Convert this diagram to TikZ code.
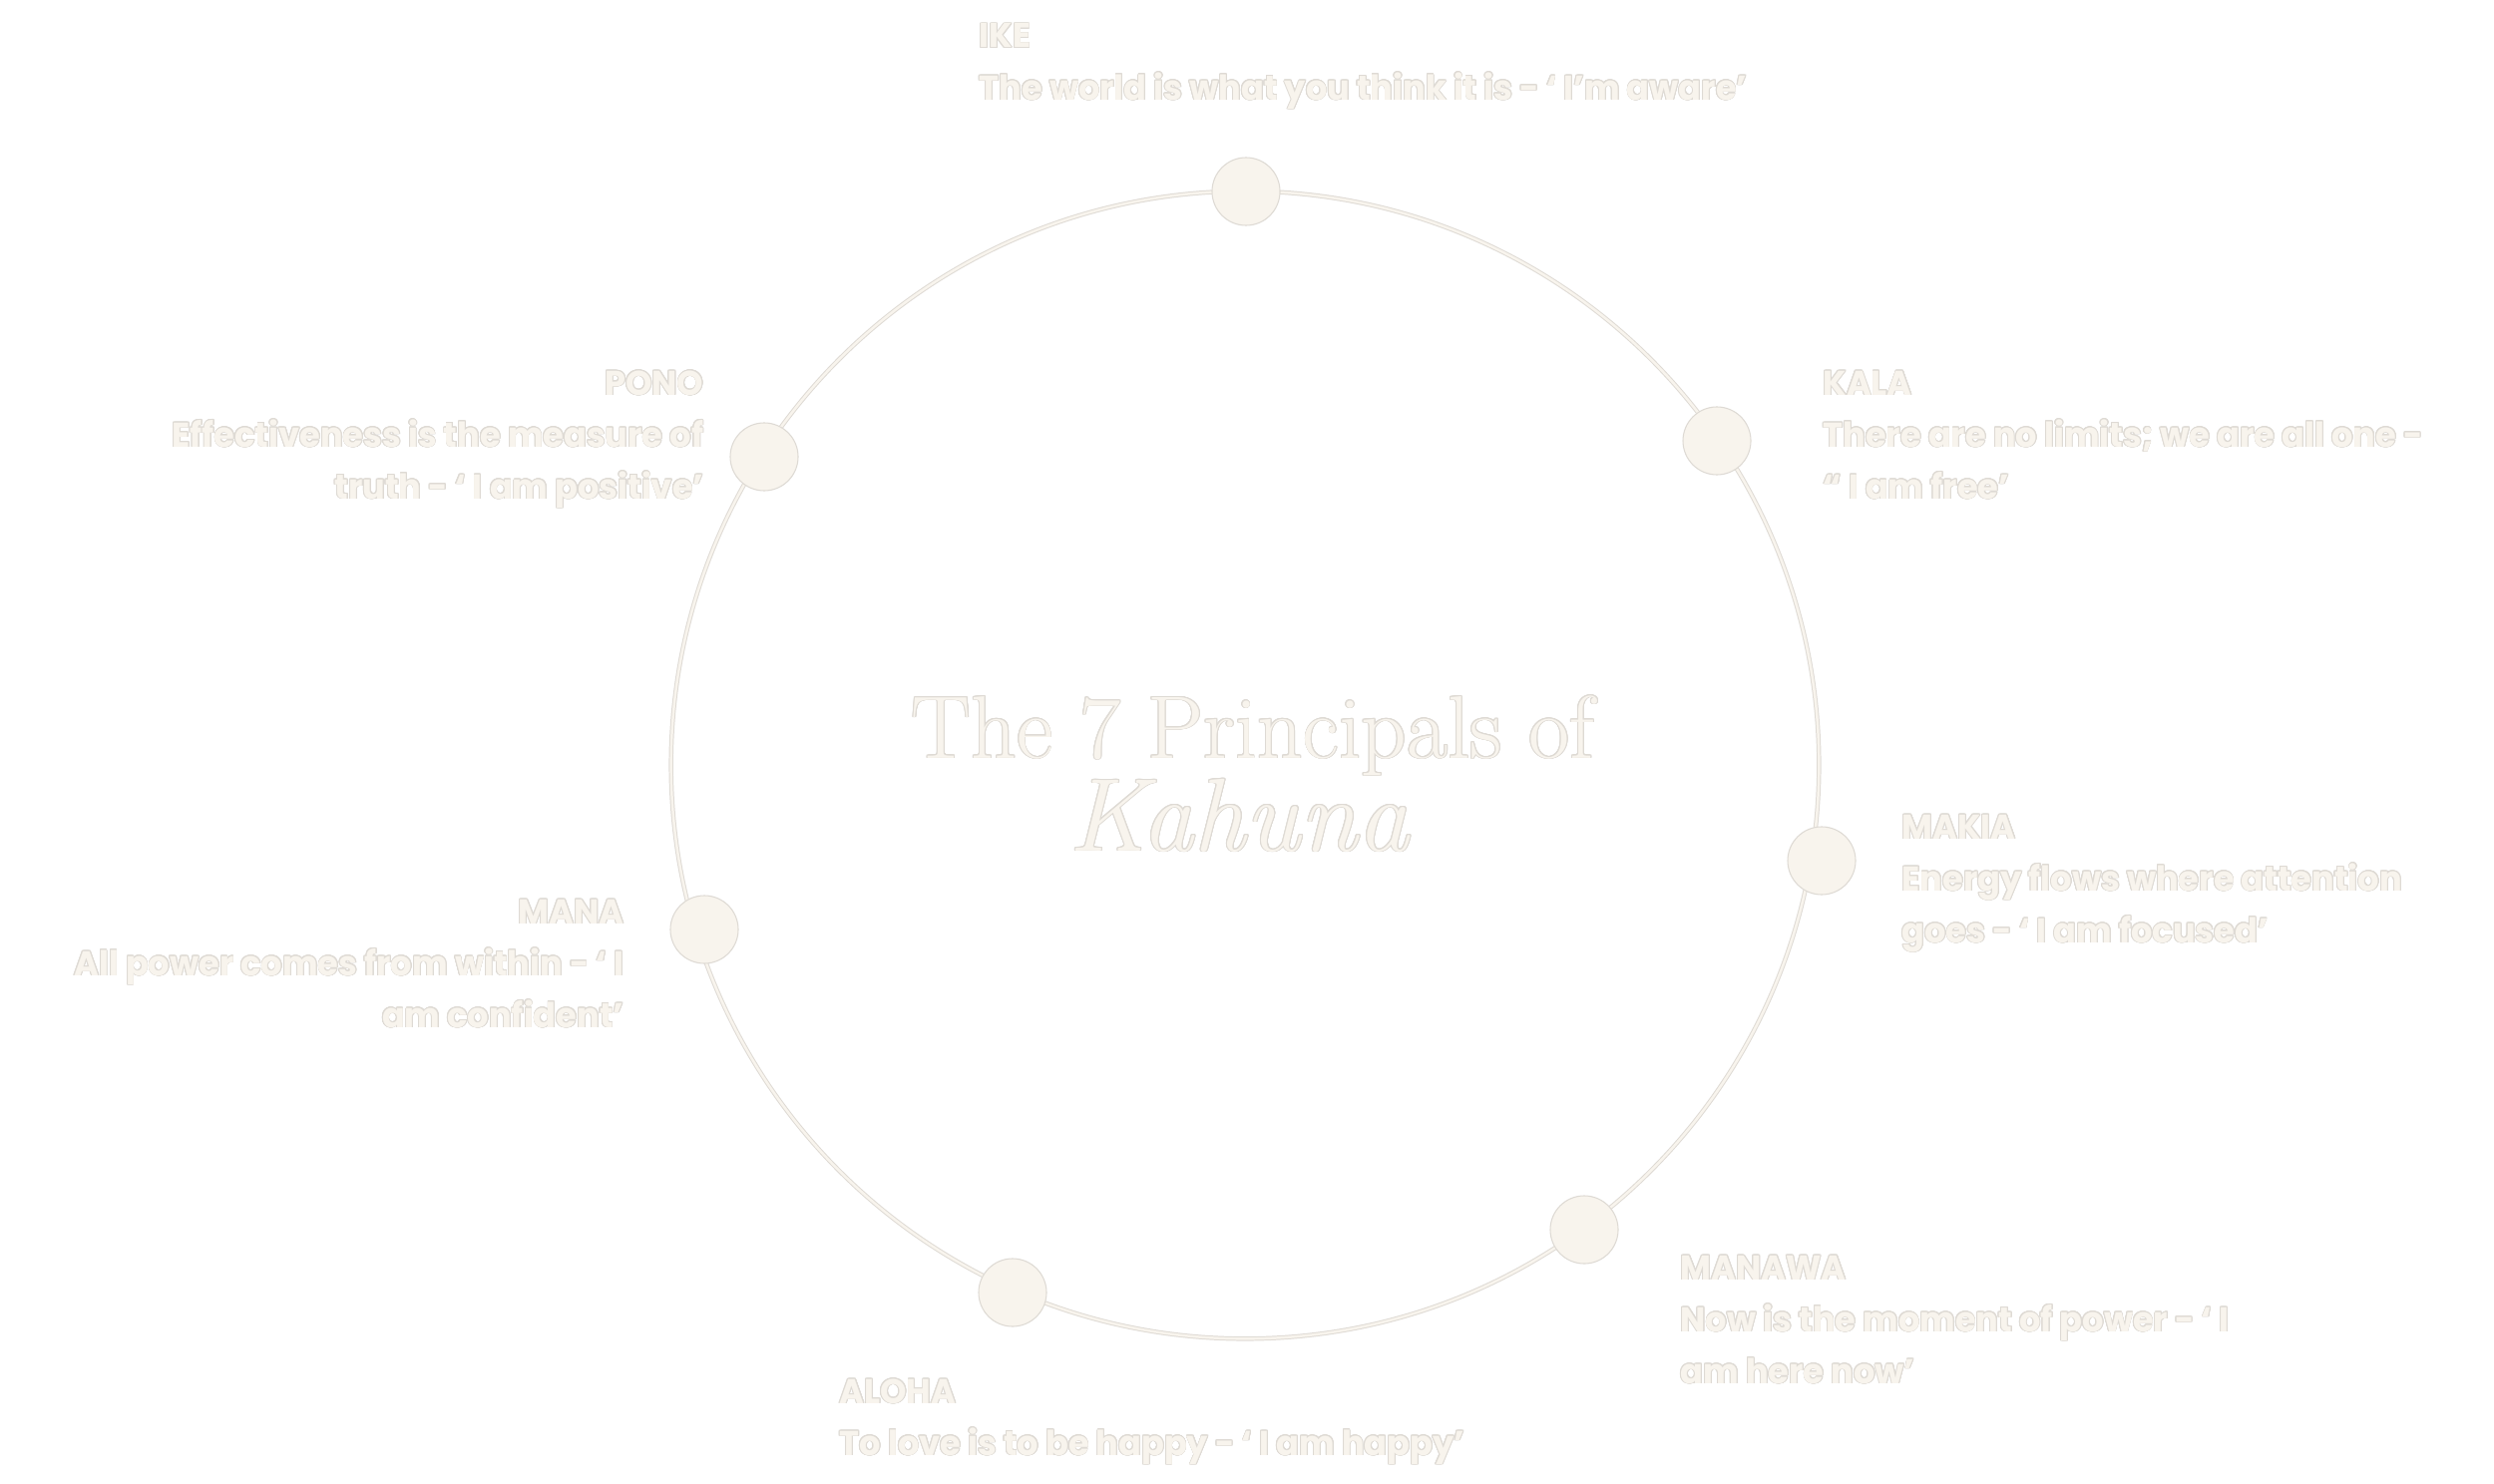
\documentclass[tikz,border=0pt]{standalone}
\usepackage{fontspec}
\usepackage{contour}
\newfontfamily\labfont{Poppins}[FakeStretch=0.975]
\definecolor{cream}{RGB}{248,244,237}
\definecolor{outl}{RGB}{222,218,212}
\contourlength{0.25pt}
\contournumber{16}
\newcommand\olt[1]{\contour{outl}{#1}}
\newcommand\rowsL[1]{\begin{tabular}[t]{@{}l@{}}#1\end{tabular}}
\newcommand\rowsR[1]{\begin{tabular}[t]{@{}r@{}}#1\end{tabular}}
\tikzset{
  lab/.style={inner sep=0pt, text=cream, font=\labfont\bfseries\fontsize{9.8}{14.8}\selectfont},
  labL/.style={lab, anchor=base west},
  labR/.style={lab, anchor=base east},
  dot/.style={circle, fill=cream, draw=outl, line width=0.3pt, minimum size=0.68cm, inner sep=0pt},
  ringstyle/.style={circle, draw=outl, double=cream, line width=0.28pt, double distance=0.7pt, minimum size=11.5cm, inner sep=0pt},
  titlestyle/.style={inner sep=0pt, anchor=base, text=cream}
}
\begin{document}
\begin{tikzpicture}[x=0.01cm, y=-0.01cm]
\useasboundingbox (0,0) rectangle (2500,1488);
\fill[white] (0,0) rectangle (2500,1488);

\node (ring) [ringstyle] at (1248,767) {};

\node (ike)    [dot] at (1249,192) {};
\node (kala)   [dot] at (1721,442) {};
\node (makia)  [dot] at (1826,863) {};
\node (manawa) [dot] at (1588,1233) {};
\node (aloha)  [dot] at (1015,1296) {};
\node (mana)   [dot] at (706,932) {};
\node (pono)   [dot] at (766,458) {};

\node (title) [titlestyle, font=\fontsize{25.4}{30}\selectfont] at (1256,760) {\olt{The 7 Principals of}};
\node (kahuna) [titlestyle, font=\itshape\fontsize{29.6}{34}\selectfont] at (1242,853) {\olt{Kahuna}};

\node (ikelab) [labL] at (981,48) {\rowsL{\olt{IKE}\\ \olt{The world is what you think it is - ‘ I’m aware’}}};
\node (kalalab) [labL] at (1827,396) {\rowsL{\olt{KALA}\\ \olt{There are no limits; we are all one -}\\ \olt{“ I am free’}}};
\node (makialab) [labL] at (1906,841) {\rowsL{\olt{MAKIA}\\ \olt{Energy flows where attention}\\ \olt{goes - ‘ I am focused’}}};
\node (manawalab) [labL] at (1684,1283) {\rowsL{\olt{MANAWA}\\ \olt{Now is the moment of power - ‘ I}\\ \olt{am here now’}}};
\node (alohalab) [labL] at (841,1407) {\rowsL{\olt{ALOHA}\\ \olt{To love is to be happy - ‘ I am happy’}}};
\node (manalab) [labR] at (626,926) {\rowsR{\olt{MANA}\\ \olt{All power comes from within - ‘ I}\\ \olt{am confident’}}};
\node (ponolab) [labR] at (706,396) {\rowsR{\olt{PONO}\\ \olt{Effectiveness is the measure of}\\ \olt{truth - ‘ I am positive’}}};
\end{tikzpicture}
\end{document}
